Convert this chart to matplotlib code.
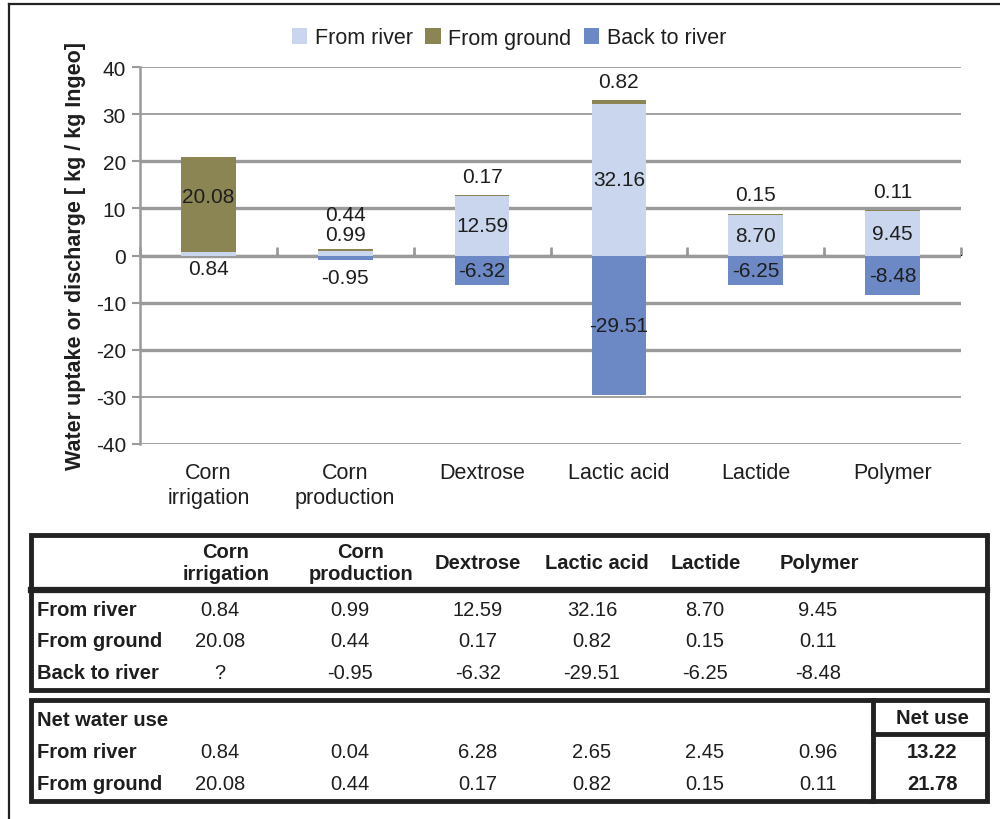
import numpy as np
import matplotlib.pyplot as plt
from matplotlib.patches import Rectangle

plt.rcParams['font.family'] = ['Liberation Sans', 'DejaVu Sans']
plt.rcParams['axes.unicode_minus'] = False

# data
cats = ['Corn\nirrigation', 'Corn\nproduction', 'Dextrose', 'Lactic acid', 'Lactide', 'Polymer']
from_river = [0.84, 0.99, 12.59, 32.16, 8.70, 9.45]
from_ground = [20.08, 0.44, 0.17, 0.82, 0.15, 0.11]
back_river = [np.nan, -0.95, -6.32, -29.51, -6.25, -8.48]
back_text = ['?', '-0.95', '-6.32', '-29.51', '-6.25', '-8.48']
net_river = [0.84, 0.04, 6.28, 2.65, 2.45, 0.96]
net_ground = [20.08, 0.44, 0.17, 0.82, 0.15, 0.11]
net_total = [13.22, 21.78]
yticks = [-40, -30, -20, -10, 0, 10, 20, 30, 40]

c_river = '#c9d6ee'
c_ground = '#8b8453'
c_back = '#6c89c5'
grey = '#9a9a9a'
txt = '#1e1e1e'
fs = 15

fig = plt.figure(figsize=(10, 8.2), dpi=100)
ax = fig.add_axes([0.140, 1 - 445 / 820, 0.821, 377 / 820])

x = np.arange(len(cats))
w = 0.4
ax.bar(x, from_river, w, color=c_river, label='From river', zorder=3)
ax.bar(x, from_ground, w, bottom=from_river, color=c_ground, label='From ground', zorder=3)
ax.bar(x, back_river, w, color=c_back, label='Back to river', zorder=3)

ax.set_xlim(-0.5, len(cats) - 0.5)
ax.set_ylim(-40, 40)
ax.set_yticks(yticks)
ax.set_yticklabels([str(v) for v in yticks], fontsize=fs, color=txt)
ax.set_xticks(x)
ax.set_xticklabels(cats, fontsize=15.5, color=txt, linespacing=1.25)
ax.tick_params(axis='x', length=0, pad=13)
ax.tick_params(axis='y', length=6, width=1.5, color=grey, pad=4)
for s in ['top', 'right', 'bottom']:
    ax.spines[s].set_visible(False)
ax.spines['left'].set_color(grey)
ax.spines['left'].set_linewidth(1.8)

ax.yaxis.grid(True, color=grey, linewidth=1.3)
ax.set_axisbelow(True)
for v, gl in zip(yticks, ax.get_ygridlines()):
    if -20 <= v <= 20:
        gl.set_linewidth(2.4)

# category boundary ticks on the zero line
sec = ax.secondary_xaxis(0.5)
sec.set_xticks(np.arange(len(cats) + 1) - 0.5)
sec.set_xticklabels([''] * (len(cats) + 1))
sec.tick_params(length=6, width=2, color=grey, direction='out')
sec.spines['bottom'].set_visible(False)

ax.set_ylabel('Water uptake or discharge [ kg / kg Ingeo]', fontsize=15.5,
              fontweight='bold', color=txt, labelpad=7)


def lab(xv, yv, s, dy=0):
    ax.annotate(s, xy=(xv, yv), xytext=(0, dy), textcoords='offset pixels',
                ha='center', va='center', fontsize=fs, color=txt, zorder=5)


for i in range(len(cats)):
    r, g, b = from_river[i], from_ground[i], back_river[i]
    top = r + g
    if i == 0:
        lab(i, r + g / 2, '%.2f' % g, 8)
        lab(i, 0, '%.2f' % r, -13)
    elif i == 1:
        lab(i, top, '%.2f' % g, 34)
        lab(i, top, '%.2f' % r, 14)
        lab(i, b, '%.2f' % b, -18)
    else:
        lab(i, top, '%.2f' % g, 19)
        lab(i, r / 2, '%.2f' % r)
        lab(i, b / 2, '%.2f' % b)

leg = fig.legend(loc='center', bbox_to_anchor=(0.509, 1 - 39 / 820), ncol=3, frameon=False,
                 fontsize=15.5, handlelength=0.7, handleheight=0.7, handletextpad=0.35,
                 columnspacing=0.6, labelcolor=txt)

# tables underneath, drawn in pixel coordinates
tb = fig.add_axes([0, 0, 1, 1], zorder=-1)
tb.set_xlim(0, 1000)
tb.set_ylim(820, 0)
tb.axis('off')

tb.plot([9, 1000], [5, 5], color='#222222', lw=1.6)
tb.plot([9, 9], [5, 820], color='#222222', lw=1.6)

edge = '#222222'
tb.add_patch(Rectangle((31, 536), 956, 155, fill=False, ec=edge, lw=3.5))
tb.plot([31, 987], [591, 591], color=edge, lw=4.5)
tb.add_patch(Rectangle((31, 701), 956, 101, fill=False, ec=edge, lw=3.5))
tb.plot([873, 873], [701, 802], color=edge, lw=3.5)
tb.plot([873, 987], [735, 735], color=edge, lw=3.5)

head_x = [226, 361, 478, 597, 706, 819]
col_x = [220, 350, 478, 592, 705, 818]
tfs = 14.5
for hx, c in zip(head_x, cats):
    tb.text(hx, 564, c, ha='center', va='center', fontsize=tfs, fontweight='bold',
            color=txt, linespacing=1.2)

rows1 = [('From river', 611, ['%.2f' % v for v in from_river]),
         ('From ground', 642, ['%.2f' % v for v in from_ground]),
         ('Back to river', 674, back_text)]
rows2 = [('From river', 753, ['%.2f' % v for v in net_river]),
         ('From ground', 785, ['%.2f' % v for v in net_ground])]
for name, yy, vals in rows1 + rows2:
    tb.text(37, yy, name, ha='left', va='center', fontsize=tfs, fontweight='bold', color=txt)
    for cx, s in zip(col_x, vals):
        tb.text(cx, yy, s, ha='center', va='center', fontsize=tfs, color=txt)

tb.text(37, 721, 'Net water use', ha='left', va='center', fontsize=tfs, fontweight='bold', color=txt)
tb.text(932, 719, 'Net use', ha='center', va='center', fontsize=tfs, fontweight='bold', color=txt)
for yy, v in zip([753, 785], net_total):
    tb.text(932, yy, '%.2f' % v, ha='center', va='center', fontsize=tfs, fontweight='bold', color=txt)

fig.savefig('out.png', dpi=100)
